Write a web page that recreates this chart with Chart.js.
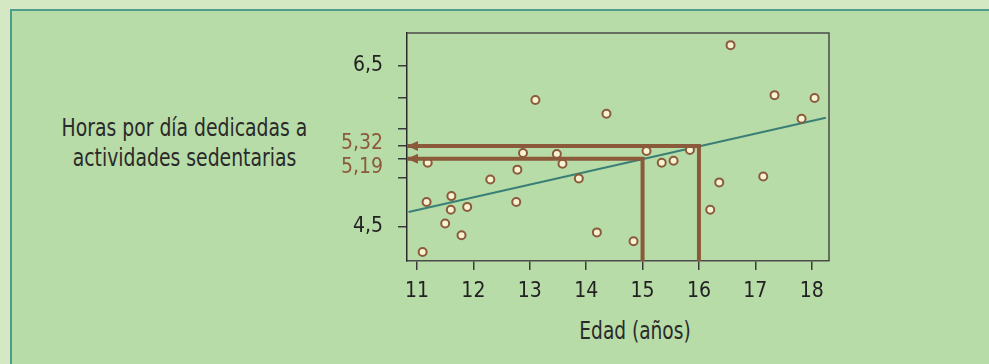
<!DOCTYPE html>
<html lang="es">
<head>
<meta charset="utf-8">
<title>Horas sedentarias por edad</title>
<script src="https://cdn.jsdelivr.net/npm/chart.js@4.4.0/dist/chart.umd.min.js"></script>
<style>
  html, body { margin: 0; padding: 0; }
  body { width: 989px; height: 364px; position: relative; overflow: hidden; background: #d4e8c4; }
  #box {
    position: absolute; left: 10px; top: 9px; right: 0; bottom: 0;
    background: #b8dca7;
    border-left: 2px solid #4f9b8c;
    border-top: 2px solid #4f9b8c;
  }
  .txt {
    position: absolute; text-align: center; color: #2a2a2a; white-space: nowrap;
    font-family: "DejaVu Sans Condensed", "Liberation Sans", sans-serif;
  }
  /* condensed look: squeeze the glyphs horizontally */
  #ylabel { left: 0; top: 113px; width: 369px; font-size: 25px; line-height: 30px;
            transform: scaleX(0.836); transform-origin: 184.5px 0; }
  #xlabel { left: 435px; top: 316px; width: 400px; font-size: 24px; line-height: 30px;
            transform: scaleX(0.86); transform-origin: 200px 0; }
  #chart { position: absolute; left: 0; top: 0; }
</style>
</head>
<body>
<div id="box"></div>
<div id="ylabel" class="txt">Horas por día dedicadas a<br>actividades sedentarias</div>
<div id="xlabel" class="txt">Edad (años)</div>
<canvas id="chart" width="989" height="364"></canvas>
<script>
// Edad (años) and horas
const edades = [11.10, 11.19, 11.17, 11.61, 11.60, 11.50, 11.79, 11.89, 12.30, 12.76,
                12.78, 12.88, 13.10, 13.48, 13.58, 13.87, 14.36, 14.19, 14.84, 15.07,
                15.34, 15.55, 15.84, 16.20, 16.36, 16.56, 17.14, 17.34, 17.82, 18.05];
const horas  = [4.24, 5.15, 4.75, 4.81, 4.67, 4.53, 4.41, 4.70, 4.98, 4.75,
                5.08, 5.25, 5.79, 5.24, 5.14, 4.99, 5.65, 4.44, 4.35, 5.27,
                5.15, 5.17, 5.28, 4.67, 4.95, 6.35, 5.01, 5.84, 5.60, 5.81];

// regression line ends
const rectaX = [10.85, 18.25];
const rectaY = [4.648, 5.610];

// read-off guides: age -> predicted hours
const guiaX = [15, 16];
const guiaY = [5.19, 5.32];

const xTickValues = [11, 12, 13, 14, 15, 16, 17, 18];
const yTickValues = [4.5, 5.0, 5.19, 5.32, 5.5, 5.81, 6.14];
const yTickLabels = ["4,5", "", "5,19", "5,32", "", "", "6,5"];

const X_MIN = 10.823, X_MAX = 18.306;
const Y_MIN = 4.148, Y_MAX = 6.474;

const BROWN = "#8b5a3b";
const FONT = "'DejaVu Sans Condensed', 'Liberation Sans', sans-serif";

const puntos = edades.map((x, i) => ({ x, y: horas[i] }));
const recta = rectaX.map((x, i) => ({ x, y: rectaY[i] }));

// one L-shaped guide per age: up from the axis, then left to the y axis
const guias = guiaX.map((x, i) => ({
  type: "line",
  data: [{ x, y: Y_MIN }, { x, y: guiaY[i] }, { x: X_MIN, y: guiaY[i] }],
  borderColor: BROWN,
  borderWidth: 4,
  borderJoinStyle: "miter",
  borderCapStyle: "butt",
  pointRadius: 0,
  tension: 0,
  order: 0,
}));

// arrowheads on the y axis + top/right frame of the plot
const extras = {
  id: "extras",
  afterDatasetsDraw(chart) {
    const { ctx, chartArea: a, scales: { x, y } } = chart;
    ctx.save();
    ctx.fillStyle = BROWN;
    guiaY.forEach(v => {
      const px = x.getPixelForValue(X_MIN);
      const py = y.getPixelForValue(v);
      ctx.beginPath();
      ctx.moveTo(px, py);
      ctx.lineTo(px + 11, py - 5);
      ctx.lineTo(px + 11, py + 5);
      ctx.closePath();
      ctx.fill();
    });
    ctx.strokeStyle = "#4a4a4a";
    ctx.lineWidth = 1.5;
    ctx.beginPath();
    ctx.moveTo(a.left, a.top);
    ctx.lineTo(a.right, a.top);
    ctx.lineTo(a.right, a.bottom);
    ctx.stroke();
    ctx.restore();
  }
};

// the two brown labels sit apart from their ticks (5,32 a bit up, 5,19 down)
function yLabel(v) {
  const i = yTickValues.indexOf(v);
  const t = i >= 0 ? yTickLabels[i] : "";
  if (v === 5.32) return [t, ""];
  if (v === 5.19) return ["", t];
  return t;
}
function yFont(c) {
  const v = c.tick ? c.tick.value : null;
  let lh = 1.2;
  if (v === 5.32) lh = "6px";
  if (v === 5.19) lh = "18px";
  return { family: FONT, size: 21, lineHeight: lh };
}

new Chart(document.getElementById("chart"), {
  type: "scatter",
  data: {
    datasets: [
      ...guias,
      {
        type: "scatter",
        data: puntos,
        pointRadius: 4,
        pointHoverRadius: 4,
        pointBorderWidth: 2,
        pointBackgroundColor: "#f7f3d3",
        pointBorderColor: BROWN,
        order: 1,
      },
      {
        type: "line",
        data: recta,
        borderColor: "#3a7f76",
        borderWidth: 2,
        pointRadius: 0,
        order: 2,
      },
    ]
  },
  options: {
    responsive: false,
    animation: false,
    devicePixelRatio: 1,
    layout: { padding: { left: 0, top: 33, right: 160, bottom: 0 } },
    plugins: { legend: { display: false }, tooltip: { enabled: false } },
    scales: {
      x: {
        type: "linear",
        min: X_MIN, max: X_MAX,
        afterBuildTicks: s => { s.ticks = xTickValues.map(v => ({ value: v })); },
        afterFit: s => { s.height = 103; },
        ticks: {
          color: "#222",
          padding: 9,
          font: { family: FONT, size: 21 },
          callback: v => String(v),
        },
        grid: { drawOnChartArea: false, drawTicks: true, tickLength: 9, color: "#3a3a3a", lineWidth: 1.5 },
        border: { display: true, color: "#4a4a4a", width: 1.5 },
      },
      y: {
        type: "linear",
        min: Y_MIN, max: Y_MAX,
        afterBuildTicks: s => { s.ticks = yTickValues.map(v => ({ value: v })); },
        afterFit: s => { s.width = 407; },
        ticks: {
          autoSkip: false,
          padding: 15,
          font: yFont,
          color: c => (c.tick && (c.tick.value === 5.19 || c.tick.value === 5.32)) ? BROWN : "#222",
          callback: yLabel,
        },
        grid: { drawOnChartArea: false, drawTicks: true, tickLength: 9, color: "#3a3a3a", lineWidth: 1.5 },
        border: { display: true, color: "#2a2a2a", width: 1.5 },
      },
    }
  },
  plugins: [extras]
});
</script>
</body>
</html>
